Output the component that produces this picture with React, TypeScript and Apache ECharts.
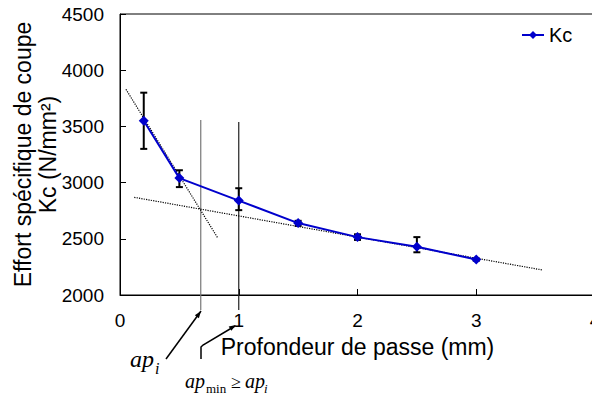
import React, { useEffect, useRef } from "react";
import * as echarts from "echarts";

const depth = [0.2, 0.5, 1, 1.5, 2, 2.5, 3];
const kc = [3550, 3040, 2840, 2640, 2515, 2430, 2315];
const errLow = [3300, 2960, 2755, 2615, 2490, 2380, 2305];
const errHigh = [3800, 3110, 2950, 2660, 2540, 2515, 2325];
const trendSteep = [[0.05, 3830], [0.82, 2513]];
const trendFlat = [[0.12, 2869], [3.56, 2222]];
// [x, top, bottom, colour]
const markerLines = [[0.68, 3557, 1867, "#777"], [1.0, 3540, 1867, "#222"]];

const SANS = "'Liberation Sans', Arial, sans-serif";
const SERIF = "'Liberation Serif', 'Times New Roman', serif";

export default function App() {
  const ref = useRef<HTMLDivElement>(null);
  useEffect(() => {
    if (!ref.current) return;
    const chart = echarts.init(ref.current, undefined, { renderer: "svg" });
    const arrowHead = (x: number, y: number, fx: number, fy: number) => {
      const dx = x - fx, dy = y - fy;
      const len = Math.sqrt(dx * dx + dy * dy);
      const ux = dx / len, uy = dy / len;
      const L = 7, W = 2.5;
      return {
        type: "polygon",
        shape: {
          points: [
            [x, y],
            [x - ux * L - uy * W, y - uy * L + ux * W],
            [x - ux * L + uy * W, y - uy * L - ux * W],
          ],
        },
        style: { fill: "#000" },
        z: 10,
      };
    };
    // baseline-positioned text (approximate)
    const txt = (text: string, x: number, baseline: number, size: number, italic: boolean) => ({
      type: "text",
      x,
      y: baseline + 0.16 * size,
      style: {
        text,
        font: `${italic ? "italic " : ""}${size}px ${SERIF}`,
        fill: "#000",
        verticalAlign: "bottom",
      },
      z: 10,
    });
    chart.setOption({
      animation: false,
      textStyle: { fontFamily: SANS },
      grid: {
        left: 120,
        top: 14,
        width: 475,
        height: 281,
        show: true,
        borderColor: "#000",
        borderWidth: 1,
        outerBoundsMode: "none",
        containLabel: false,
      },
      legend: {
        data: ["Kc"],
        left: 521,
        top: 25,
        padding: 0,
        itemWidth: 22,
        itemHeight: 10,
        itemGap: 4,
        textStyle: { fontSize: 20, color: "#000", fontFamily: SANS },
      },
      xAxis: {
        type: "value",
        min: 0,
        max: 4,
        interval: 1,
        splitLine: { show: false },
        axisLine: { lineStyle: { color: "#000", width: 1 } },
        axisTick: { inside: true, length: 6, lineStyle: { color: "#000" } },
        axisLabel: {
          fontSize: 19,
          color: "#000",
          margin: 16,
          fontFamily: SANS,
          formatter: (v: number) => String(v),
        },
        name: "Profondeur de passe (mm)",
        nameLocation: "middle",
        nameGap: 40,
        nameMoveOverlap: false,
        nameTextStyle: { fontSize: 23, color: "#000", fontFamily: SANS },
      },
      yAxis: {
        type: "value",
        min: 2000,
        max: 4500,
        interval: 500,
        splitLine: { show: false },
        axisLine: { show: true, lineStyle: { color: "#000", width: 1 } },
        axisTick: { show: true, inside: true, length: 6, lineStyle: { color: "#000" } },
        axisLabel: {
          fontSize: 19,
          color: "#000",
          margin: 16,
          fontFamily: SANS,
          formatter: (v: number) => String(v),
        },
        name: "Effort spécifique de coupe\nKc (N/mm²)",
        nameLocation: "middle",
        nameRotate: 90,
        nameGap: 60,
        nameMoveOverlap: false,
        nameTextStyle: { fontSize: 23, color: "#000", lineHeight: 25, fontFamily: SANS },
      },
      series: [
        {
          type: "line",
          data: trendSteep,
          symbol: "none",
          lineStyle: { color: "#000", width: 1.2, type: "dotted" },
          z: 1,
          silent: true,
        },
        {
          type: "line",
          data: trendFlat,
          symbol: "none",
          lineStyle: { color: "#000", width: 1.2, type: "dotted" },
          z: 1,
          silent: true,
        },
        {
          type: "custom",
          clip: false,
          data: markerLines,
          z: 1,
          renderItem: (params: any, api: any) => {
            const x = api.value(0);
            const t = api.coord([x, api.value(1)]);
            const b = api.coord([x, api.value(2)]);
            const c = markerLines[params.dataIndex][3] as string;
            return {
              type: "line",
              shape: { x1: t[0], y1: t[1], x2: b[0], y2: b[1] },
              style: { stroke: c, lineWidth: 1.2 },
            };
          },
        },
        {
          type: "custom",
          data: depth.map((d, i) => [d, errLow[i], errHigh[i]]),
          z: 2,
          renderItem: (params: any, api: any) => {
            const x = api.value(0);
            const t = api.coord([x, api.value(2)]);
            const b = api.coord([x, api.value(1)]);
            const w = 3.5;
            const st = { stroke: "#000", lineWidth: 2 };
            return {
              type: "group",
              children: [
                { type: "line", shape: { x1: t[0], y1: t[1], x2: b[0], y2: b[1] }, style: st },
                { type: "line", shape: { x1: t[0] - w, y1: t[1], x2: t[0] + w, y2: t[1] }, style: st },
                { type: "line", shape: { x1: b[0] - w, y1: b[1], x2: b[0] + w, y2: b[1] }, style: st },
              ],
            };
          },
        },
        {
          name: "Kc",
          type: "line",
          data: depth.map((d, i) => [d, kc[i]]),
          symbol: "diamond",
          symbolSize: 10,
          itemStyle: { color: "#0000CC" },
          lineStyle: { color: "#0000CC", width: 2 },
          z: 5,
        },
      ],
      graphic: [
        { type: "line", shape: { x1: 166, y1: 359, x2: 201, y2: 311 }, style: { stroke: "#000", lineWidth: 1.5 }, z: 10 },
        arrowHead(201, 311, 166, 359),
        {
          type: "polyline",
          shape: { points: [[201, 359], [201, 347], [203, 345], [235, 326]] },
          style: { stroke: "#000", lineWidth: 1.5, fill: "none" },
          z: 10,
        },
        arrowHead(236, 325, 203, 345),
        txt("ap", 130, 367, 24, true),
        txt("i", 155, 374, 16, true),
        txt("ap", 185, 388, 20, true),
        txt("min", 206, 393, 13, false),
        txt("≥", 231, 388, 18, false),
        txt("ap", 245, 388, 20, true),
        txt("i", 264, 393, 13, true),
      ],
    });
    return () => chart.dispose();
  }, []);
  return (
    <div
      ref={ref}
      style={{ position: "fixed", left: 0, top: 0, width: 592, height: 399, background: "#fff" }}
    />
  );
}
